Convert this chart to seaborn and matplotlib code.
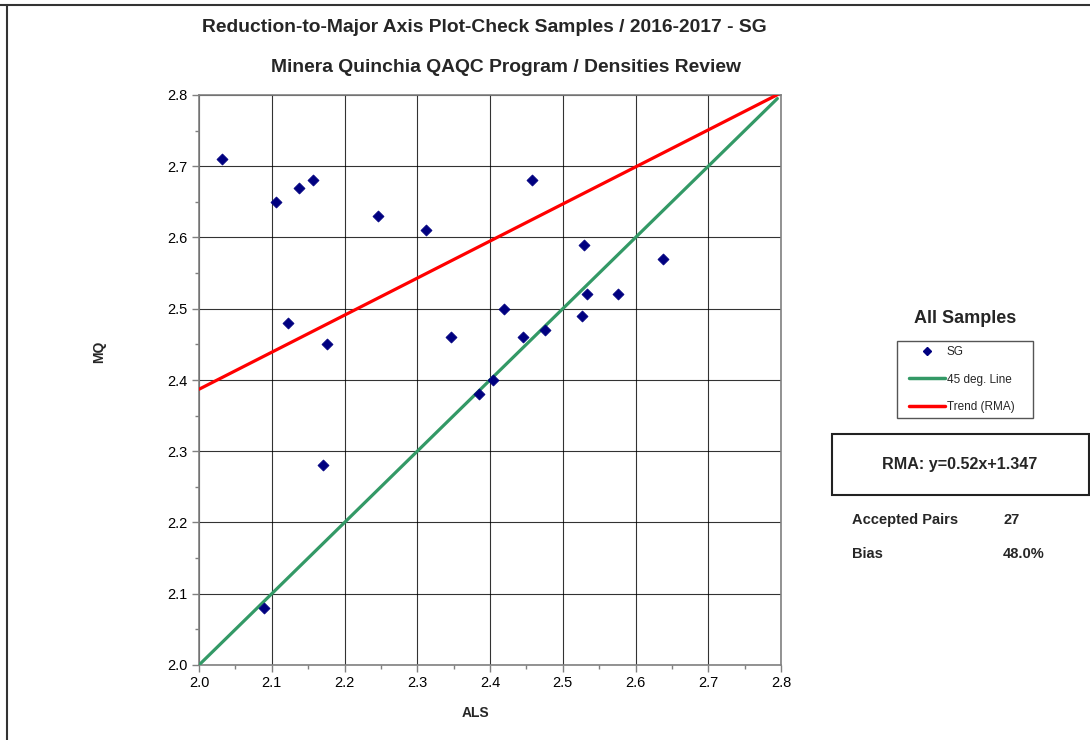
import numpy as np
import pandas as pd
import matplotlib
matplotlib.use("Agg")
import matplotlib.pyplot as plt
from matplotlib.patches import Rectangle
from matplotlib.lines import Line2D
import seaborn as sns

# ---- data ----
als = [2.032, 2.106, 2.137, 2.157, 2.122, 2.176, 2.170, 2.090, 2.246, 2.312,
       2.346, 2.385, 2.404, 2.419, 2.445, 2.458, 2.475, 2.529, 2.527, 2.534,
       2.576, 2.638]
mq = [2.71, 2.65, 2.67, 2.68, 2.48, 2.45, 2.28, 2.08, 2.63, 2.61,
      2.46, 2.38, 2.40, 2.50, 2.46, 2.68, 2.47, 2.59, 2.49, 2.52,
      2.52, 2.57]
rma_slope = 0.52
rma_intercept = 1.347
line_x = [2.0, 2.795]
x_ticks = [2.0, 2.1, 2.2, 2.3, 2.4, 2.5, 2.6, 2.7, 2.8]
y_ticks = [2.0, 2.1, 2.2, 2.3, 2.4, 2.5, 2.6, 2.7, 2.8]
accepted_pairs = 27
bias = "48.0%"

title1 = "Reduction-to-Major Axis Plot-Check Samples / 2016-2017 - SG"
title2 = "Minera Quinchia QAQC Program / Densities Review"

sns.set_theme(style="white")
plt.rcParams['font.family'] = ['Liberation Sans', 'DejaVu Sans']

fig = plt.figure(figsize=(10.9, 7.4), dpi=100)
W, H = 1090, 740
ax = fig.add_axes([199 / W, 1 - 665 / H, (781 - 199) / W, (665 - 95) / H])

df = pd.DataFrame({"ALS": als, "MQ": mq})
lines = pd.DataFrame({
    "x": line_x + line_x,
    "y": list(line_x) + [rma_slope * v + rma_intercept for v in line_x],
    "kind": ["45 deg. Line"] * 2 + ["Trend (RMA)"] * 2,
})

green = "#339966"
red = "#FF0000"
navy = "#000080"

sns.lineplot(data=lines[lines.kind == "45 deg. Line"], x="x", y="y", color=green,
             linewidth=2.3, ax=ax, legend=False, zorder=3)
sns.lineplot(data=lines[lines.kind == "Trend (RMA)"], x="x", y="y", color=red,
             linewidth=2.3, ax=ax, legend=False, zorder=3)
sns.scatterplot(data=df, x="ALS", y="MQ", marker="D", s=32, color=navy,
                edgecolor=navy, linewidth=0.5, ax=ax, zorder=4, legend=False)

ax.set_xlim(2.0, 2.8)
ax.set_ylim(2.0, 2.8)
ax.set_xticks(x_ticks)
ax.set_yticks(y_ticks)
ax.set_xticklabels([f"{v:.1f}" for v in x_ticks])
ax.set_yticklabels([f"{v:.1f}" for v in y_ticks])
ax.set_xticks(np.arange(2.05, 2.8, 0.1), minor=True)
ax.set_yticks(np.arange(2.05, 2.8, 0.1), minor=True)
ax.tick_params(which="major", direction="out", length=5, width=1, color="#808080",
               labelsize=10.5, labelcolor="black", left=True, bottom=True, pad=3)
ax.tick_params(which="minor", direction="out", length=3, width=1, color="#808080",
               left=True, bottom=True)
ax.grid(True, which="major", color="#000000", linewidth=0.8, alpha=0.8)
for sp in ax.spines.values():
    sp.set_color("#808080")
    sp.set_linewidth(1.2)
ax.set_xlabel("ALS", fontsize=10, fontweight="bold")
ax.set_ylabel("MQ", fontsize=10, fontweight="bold")
ax.xaxis.set_label_coords((475 - 199) / 582, (665 - 706) / 570)
ax.yaxis.set_label_coords((106 - 199) / 582, (665 - 352) / 570)

# titles
fig.text(484 / W, 1 - 27 / H, title1, ha="center", va="center",
         fontsize=13.9, fontweight="bold")
fig.text(506 / W, 1 - 67 / H, title2, ha="center", va="center",
         fontsize=13.9, fontweight="bold")

# outer border (top and left)
fig.add_artist(Line2D([0, 1], [1 - 5 / H, 1 - 5 / H], transform=fig.transFigure,
                      color="#333333", linewidth=1.5))
fig.add_artist(Line2D([7 / W, 7 / W], [0, 1 - 5 / H], transform=fig.transFigure,
                      color="#333333", linewidth=1.5))

# right panel
fig.text(965 / W, 1 - 318 / H, "All Samples", ha="center", va="center",
         fontsize=13, fontweight="bold")
fig.add_artist(Rectangle((897 / W, 1 - 418 / H), (1033 - 897) / W, (418 - 341) / H,
                         transform=fig.transFigure, fill=False,
                         edgecolor="#555555", linewidth=1))
handles = [
    Line2D([], [], marker="D", color=navy, linestyle="none", markersize=4.5),
    Line2D([], [], color=green, linewidth=2.5),
    Line2D([], [], color=red, linewidth=2.5),
]
fig.legend(handles, ["SG", "45 deg. Line", "Trend (RMA)"],
           loc="upper left", bbox_to_anchor=(908 / W, 1 - 345 / H),
           frameon=False, fontsize=8.5, handlelength=3.0, handletextpad=0.2,
           labelspacing=1.3, borderpad=0.1, borderaxespad=0)

fig.add_artist(Rectangle((832 / W, 1 - 495 / H), (1089 - 832) / W, (495 - 434) / H,
                         transform=fig.transFigure, fill=False,
                         edgecolor="#222222", linewidth=1.5))
fig.text(960 / W, 1 - 465 / H, f"RMA: y={rma_slope:.2f}x+{rma_intercept:.3f}",
         ha="center", va="center", fontsize=11.6, fontweight="bold")
fig.text(852 / W, 1 - 520 / H, "Accepted Pairs", ha="left", va="center",
         fontsize=10.5, fontweight="bold")
fig.text(1003 / W, 1 - 520 / H, str(accepted_pairs), ha="left", va="center",
         fontsize=10.5, fontweight="bold")
fig.text(852 / W, 1 - 554 / H, "Bias", ha="left", va="center",
         fontsize=10.5, fontweight="bold")
fig.text(1003 / W, 1 - 554 / H, bias, ha="left", va="center",
         fontsize=10.5, fontweight="bold")

fig.savefig("out.png", dpi=100)
